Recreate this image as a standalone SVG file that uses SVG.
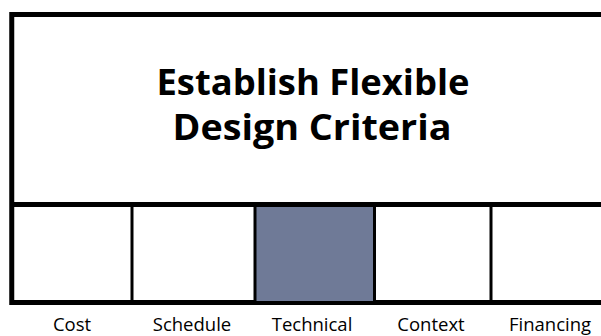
<svg xmlns="http://www.w3.org/2000/svg" width="601" height="336" viewBox="0 0 601 336">
<style>
.frame{fill:none;stroke:#000;stroke-width:5}
.div{stroke:#000;stroke-width:3}
.title{font-family:"Open Sans","Liberation Sans",sans-serif;font-weight:bold;font-size:35px;fill:#000;text-anchor:middle}
.lbl{font-family:"Open Sans","Liberation Sans",sans-serif;font-size:18.5px;fill:#000;text-anchor:middle}
</style>
<rect width="601" height="336" fill="#fff"/>
<g id="main">
<rect x="11.75" y="14.5" width="620" height="288" class="frame"/>
<text x="313" y="95" class="title" textLength="313" lengthAdjust="spacingAndGlyphs">Establish Flexible</text>
<text x="312" y="140" class="title" textLength="279" lengthAdjust="spacingAndGlyphs">Design Criteria</text>
</g>
<g id="cost"><text x="72" y="331" class="lbl">Cost</text></g>
<g id="schedule"><text x="192" y="331" class="lbl">Schedule</text></g>
<g id="technical"><rect x="256" y="206" width="117" height="95" fill="#6f7a97"/><text x="312" y="331" class="lbl">Technical</text></g>
<g id="context"><text x="431" y="331" class="lbl">Context</text></g>
<g id="financing"><text x="550" y="331" class="lbl">Financing</text></g>
<g id="connectors">
<line x1="11" y1="204.5" x2="601" y2="204.5" class="frame"/>
<line x1="132" y1="205" x2="132" y2="301" class="div"/>
<line x1="255" y1="205" x2="255" y2="301" class="div"/>
<line x1="374.5" y1="205" x2="374.5" y2="301" class="div"/>
<line x1="491" y1="205" x2="491" y2="301" class="div"/>
</g>
</svg>
